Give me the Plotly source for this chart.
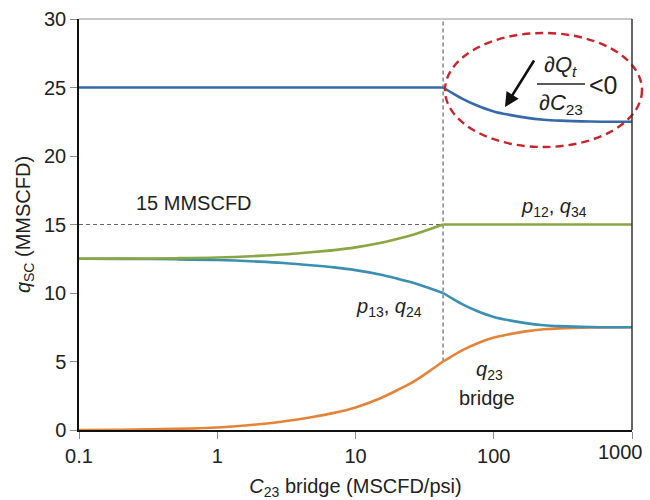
import plotly.graph_objects as go

# Bridge conductance C23 (MSCFD/psi)
c23 = [0.1, 0.2, 0.5, 1, 2, 3, 5, 7, 10, 15, 20, 25, 30, 36, 43,
       50, 60, 75, 100, 130, 170, 230, 300, 500, 1000]

# Total rate Q_t
q_total = [25.0, 25.0, 25.0, 25.0, 25.0, 25.0, 25.0, 25.0, 25.0, 25.0, 25.0, 25.0, 25.0, 25.0, 25.0,
           24.6, 24.15, 23.7, 23.25, 23.0, 22.8, 22.65, 22.58, 22.52, 22.5]

# p12, q34 branch
q_12_34 = [12.5, 12.51, 12.54, 12.59, 12.71, 12.81, 12.99, 13.13, 13.33, 13.65, 13.95, 14.2, 14.45, 14.73, 15.0,
           15.0, 15.0, 15.0, 15.0, 15.0, 15.0, 15.0, 15.0, 15.0, 15.0]

# p13, q24 branch
q_13_24 = [12.5, 12.49, 12.46, 12.41, 12.29, 12.19, 12.01, 11.87, 11.67, 11.35, 11.05, 10.8, 10.55, 10.27, 10.0,
           9.6, 9.15, 8.7, 8.25, 8.0, 7.8, 7.65, 7.58, 7.52, 7.5]

# q23 through the bridge
q_23 = [0.0, 0.02, 0.08, 0.18, 0.42, 0.62, 0.97, 1.25, 1.65, 2.3, 2.9, 3.4, 3.9, 4.45, 5.0,
        5.4, 5.85, 6.3, 6.75, 7.0, 7.2, 7.35, 7.42, 7.48, 7.5]

rate_limit = 15.0      # MMSCFD cap on the p12 / q34 branch
c_critical = 43.0      # conductance at which the cap is reached
q23_at_critical = 5.0

x_ticks = [0.1, 1, 10, 100, 1000]
x_tick_text = ["0.1", "1", "10", "100", "1000"]
y_range = [0, 30]

FONT = "Liberation Sans, Arial, Helvetica, sans-serif"
INK = "#222222"
FS = 20

fig = go.Figure()

# reference dashed lines
fig.add_trace(go.Scatter(x=[c23[0], c_critical], y=[rate_limit, rate_limit], mode="lines",
                         line=dict(color="#666666", width=1.2, dash="4px,3px"),
                         hoverinfo="skip", showlegend=False))
fig.add_trace(go.Scatter(x=[c_critical, c_critical], y=[q23_at_critical, y_range[1]], mode="lines",
                         line=dict(color="#666666", width=1.2, dash="4px,3px"),
                         hoverinfo="skip", showlegend=False))

# each curve is smooth on either side of the critical conductance,
# with a corner where the 15 MMSCFD cap kicks in
k = c23.index(c_critical)
series = [
    (q_23, "#e3843a"),
    (q_13_24, "#3a8fb3"),
    (q_12_34, "#8aa642"),
    (q_total, "#3769a8"),
]
for ys, col in series:
    for sl in (slice(0, k + 1), slice(k, None)):
        fig.add_trace(go.Scatter(x=c23[sl], y=ys[sl], mode="lines",
                                 line=dict(color=col, width=2.6, shape="spline", smoothing=0.9),
                                 cliponaxis=False, showlegend=False))

L, R, T, B = 79, 18, 19, 70
W, H = 650, 500
pw, ph = W - L - R, H - T - B


def px(xp):
    return (xp - L) / pw


def py(yp):
    return (H - B - yp) / ph


annotations = [
    dict(x=px(134), y=py(203), text="15 MMSCFD", xanchor="left", font_size=FS),
    dict(x=px(519), y=py(207), text="<i>p</i><sub>12</sub>, <i>q</i><sub>34</sub>", xanchor="left", font_size=FS),
    dict(x=px(354), y=py(307), text="<i>p</i><sub>13</sub>, <i>q</i><sub>24</sub>", xanchor="left", font_size=FS),
    dict(x=px(489), y=py(370), text="<i>q</i><sub>23</sub>", xanchor="center", font_size=FS),
    dict(x=px(487), y=py(398), text="bridge", xanchor="center", font_size=FS),
    dict(x=px(560), y=py(66), text="∂<i>Q</i><sub><i>t</i></sub>", xanchor="center", font_size=22),
    dict(x=px(561), y=py(104), text="∂<i>C</i><sub>23</sub>", xanchor="center", font_size=22),
    dict(x=px(603), y=py(85), text="<0", xanchor="center", font_size=25),
    # last decade label, kept inside the page edge
    dict(x=px(645), y=py(452), text=x_tick_text[-1], xanchor="right", font_size=FS),
]
for a in annotations:
    a.update(xref="paper", yref="paper", yanchor="middle", showarrow=False,
             font=dict(family=FONT, color=INK, size=a.pop("font_size")))
    fig.add_annotation(**a)

# arrow pointing at the falling total-rate curve
fig.add_annotation(x=px(505), y=py(107), xref="paper", yref="paper",
                   ax=30, ay=-48, showarrow=True, arrowhead=2, arrowsize=1.1,
                   arrowwidth=2.6, arrowcolor="#111111", text="")

shapes = [
    # fraction bar
    dict(type="line", xref="paper", yref="paper", x0=px(537), x1=px(585), y0=py(84), y1=py(84),
         line=dict(color=INK, width=1.5)),
    # dashed ellipse around the declining region
    dict(type="circle", xref="paper", yref="paper", x0=px(445), x1=px(642), y0=py(147), y1=py(33),
         line=dict(color="#c8242c", width=2.4, dash="8px,5px")),
    # frame top (light) and right (dark)
    dict(type="line", xref="paper", yref="paper", x0=0, x1=1, y0=1, y1=1,
         line=dict(color="#b5b5b5", width=1.5)),
    dict(type="line", xref="paper", yref="paper", x0=1, x1=1, y0=0, y1=1,
         line=dict(color="#333333", width=1.5)),
]
for s in shapes:
    fig.add_shape(**s)

axis_common = dict(showgrid=False, zeroline=False, showline=True, linecolor="#111111", linewidth=1.5,
                   ticks="outside", ticklen=7, tickwidth=1.3, tickcolor="#8a8a8a",
                   tickfont=dict(family=FONT, size=FS, color=INK))

fig.update_xaxes(type="log", range=[-1, 3], tickvals=x_ticks,
                 ticktext=x_tick_text[:-1] + [""],
                 title=dict(text="<i>C</i><sub>23</sub> bridge (MSCFD/psi)",
                            font=dict(family=FONT, size=FS, color=INK), standoff=14),
                 **axis_common)
fig.update_yaxes(range=y_range, dtick=5,
                 title=dict(text="<i>q</i><sub>SC</sub> (MMSCFD)",
                            font=dict(family=FONT, size=FS, color=INK), standoff=8),
                 **axis_common)

fig.update_layout(width=W, height=H, margin=dict(l=L, r=R, t=T, b=B, autoexpand=False),
                  plot_bgcolor="white", paper_bgcolor="white", showlegend=False)

fig.write_html("out.html")
